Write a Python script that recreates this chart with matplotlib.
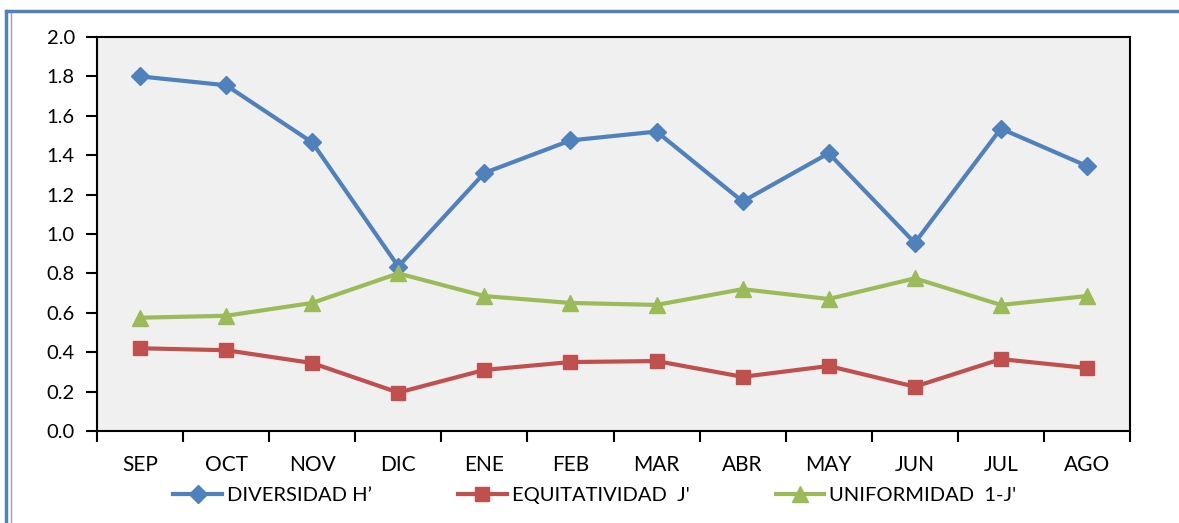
import numpy as np
import matplotlib.pyplot as plt
from matplotlib.lines import Line2D

plt.rcParams['font.family'] = ['Lato', 'DejaVu Sans']

# datos mensuales
meses = ['SEP', 'OCT', 'NOV', 'DIC', 'ENE', 'FEB', 'MAR', 'ABR', 'MAY', 'JUN', 'JUL', 'AGO']
diversidad = [1.80, 1.755, 1.465, 0.835, 1.31, 1.475, 1.52, 1.165, 1.41, 0.955, 1.535, 1.345]
equitatividad = [0.42, 0.41, 0.345, 0.195, 0.31, 0.35, 0.355, 0.275, 0.33, 0.225, 0.365, 0.32]
uniformidad = [0.575, 0.585, 0.65, 0.80, 0.685, 0.65, 0.64, 0.72, 0.67, 0.775, 0.64, 0.685]

series = [
    (diversidad, 'DIVERSIDAD H\u2019', '#4f81bd', 'D', 9),
    (equitatividad, 'EQUITATIVIDAD  J\'', '#c0504d', 's', 10),
    (uniformidad, 'UNIFORMIDAD  1-J\'', '#9bbb59', '^', 11),
]

fig = plt.figure(figsize=(11.79, 5.23), dpi=100)
ax = fig.add_axes([97/1179, 1 - 431/523, (1130-97)/1179, (431-37)/523])
ax.set_facecolor('#f0f0f0')

x = np.arange(len(meses))
for vals, lab, col, mk, ms in series:
    ax.plot(x, vals, color=col, lw=3, marker=mk, markersize=ms, label=lab)

ax.set_xlim(-0.5, len(meses) - 0.5)
ax.set_ylim(0, 2.0)
ax.set_yticks(np.arange(0, 2.01, 0.2))
ax.set_yticklabels([f'{v:.1f}' for v in np.arange(0, 2.01, 0.2)])
ax.set_xticks(x)
ax.set_xticklabels(meses)
ax.set_xticks(np.arange(-0.5, len(meses), 1), minor=True)
ax.tick_params(axis='x', which='major', length=0, pad=17, labelsize=15)
ax.tick_params(axis='x', which='minor', length=8, width=1.5, direction='out')
ax.tick_params(axis='y', length=8, width=1.5, labelsize=14.5, pad=8)
for s in ax.spines.values():
    s.set_linewidth(1.5)
    s.set_color('black')

fig.legend(loc='center', bbox_to_anchor=(595/1179, 1 - 495/523), ncol=3,
           frameon=False, fontsize=14.5, handlelength=2.4, columnspacing=4.3,
           handletextpad=0.25)

# marco exterior
fig.add_artist(Line2D([7/1179, 1], [1 - 11/523] * 2, color='#4f81bd', lw=2.5))
fig.add_artist(Line2D([6/1179] * 2, [0, 1 - 11/523], color='#4f81bd', lw=2.5))
fig.add_artist(Line2D([10.5/1179] * 2, [0, 1 - 13/523], color='#a0a0a0', lw=1))

fig.savefig('out.png', dpi=100)
